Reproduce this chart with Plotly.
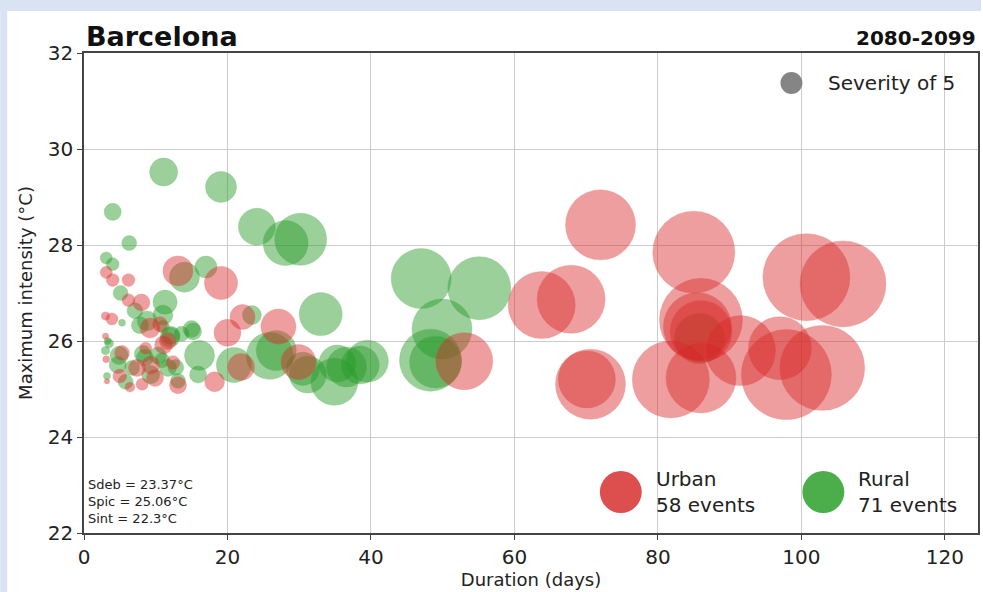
import plotly.graph_objects as go

# ---------------- data ----------------
urban_duration = [72.0, 85.0, 63.8, 67.9, 70.1, 70.6, 81.8, 86.0, 86.0, 85.5, 86.0, 91.5, 97.0, 97.9,
                  102.9, 100.7, 105.8, 53.0, 19.1, 27.1, 22.1, 20.0, 21.9, 18.2, 29.9, 13.1, 3.1, 4.0,
                  6.2, 6.2, 8.0, 9.2, 3.9, 3.0, 11.7, 5.3, 11.1, 7.4, 9.3, 5.0, 9.9, 13.1, 8.1, 6.4,
                  3.2, 3.1, 3.0, 10.6, 12.4, 8.6]
urban_intensity = [28.42, 27.85, 26.75, 26.87, 25.2, 25.1, 25.2, 25.23, 26.44, 26.3, 26.2, 25.8, 25.85,
                   25.3, 25.44, 27.33, 27.19, 25.58, 27.21, 26.3, 26.5, 26.17, 25.46, 25.15, 25.56, 27.46,
                   27.43, 27.27, 27.27, 26.85, 26.8, 26.27, 26.46, 26.52, 26.0, 25.75, 25.92, 25.44, 25.5,
                   25.27, 25.23, 25.08, 25.1, 25.04, 25.16, 25.62, 26.1, 26.35, 25.55, 25.85]
urban_severity = [50.6, 69.5, 46.4, 47.8, 33.6, 50.6, 61.3, 50.6, 71.2, 47.8, 39.7, 50.6, 41.0, 83.7,
                  74.6, 78.2, 76.4, 33.6, 11.3, 12.7, 6.5, 7.5, 7.5, 4.1, 12.7, 9.3, 1.5, 1.7,
                  1.7, 1.7, 3.0, 4.1, 1.5, 0.7, 3.0, 2.3, 3.4, 3.0, 3.4, 2.0, 3.0, 3.0, 1.5, 1.0,
                  0.3, 0.5, 0.4, 2.3, 2.0, 1.5]

rural_duration = [47.0, 55.1, 49.9, 48.3, 49.0, 85.8, 39.5, 38.5, 11.1, 19.1, 24.1, 28.1, 30.2, 17.0,
                  33.0, 23.4, 15.2, 16.1, 20.9, 25.9, 26.8, 15.9, 30.5, 31.2, 34.9, 35.3, 36.6, 14.0,
                  4.0, 6.3, 3.1, 4.0, 5.1, 7.1, 11.3, 11.0, 8.8, 7.8, 11.0, 5.3, 15.0, 12.1, 4.9, 8.2,
                  10.3, 4.7, 6.7, 11.7, 9.3, 13.1, 5.8, 3.2, 3.0, 3.3, 12.0, 13.6, 8.5, 12.8, 10.9, 3.5]
rural_intensity = [27.3, 27.1, 26.25, 25.6, 25.56, 26.05, 25.58, 25.5, 29.52, 29.21, 28.38, 28.04, 28.12,
                   27.54, 26.56, 26.54, 26.2, 25.7, 25.5, 25.69, 25.8, 25.3, 25.42, 25.3, 25.15, 25.53,
                   25.46, 27.33, 28.69, 28.04, 27.73, 27.6, 27.0, 26.63, 26.81, 26.54, 26.42, 26.33, 26.3,
                   26.38, 26.25, 26.12, 25.7, 25.73, 25.7, 25.5, 25.44, 25.44, 25.3, 25.17, 25.15, 25.27,
                   25.8, 26.0, 26.08, 26.15, 25.65, 25.45, 25.6, 25.95]
rural_severity = [37.2, 41.0, 37.2, 39.7, 27.9, 25.8, 18.2, 14.9, 8.1, 9.9, 14.1, 20.9, 27.9, 5.0,
                  19.1, 3.7, 3.0, 9.3, 12.7, 22.8, 16.5, 3.0, 11.3, 14.1, 22.8, 14.1, 16.5, 9.3,
                  3.0, 2.3, 1.5, 1.7, 2.3, 2.6, 6.0, 4.1, 4.1, 3.0, 1.7, 0.5, 3.0, 3.4, 3.4, 3.0,
                  3.0, 3.0, 2.3, 3.0, 3.4, 2.3, 2.3, 0.5, 0.7, 0.5, 4.1, 2.3, 3.0, 2.6, 2.3, 0.8]

x_ticks = [0, 20, 40, 60, 80, 100, 120]
y_ticks = [22, 24, 26, 28, 30, 32]
city = "Barcelona"
period = "2080-2099"
stats_lines = ["Sdeb = 23.37°C", "Spic = 25.06°C", "Sint = 22.3°C"]
legend_severity = 5
n_urban = 58
n_rural = 71

# ---------------- layout geometry (pixels) ----------------
W, H = 983, 592
L, R, T, B = 84, 980, 53, 533  # plot area edges in pixels


def px(xp):
    return (xp - L) / (R - L)


def py(yp):
    return (B - yp) / (B - T)


SEV_PX = 22  # diameter in px of a severity-5 bubble
sizeref = 2.0 * legend_severity / SEV_PX ** 2

RED = "rgba(218,40,40,0.64)"
RED_LINE = "rgba(225,80,80,0.35)"
GREEN = "rgba(40,155,40,0.66)"
GREEN_LINE = "rgba(60,170,60,0.35)"
FONT = "DejaVu Sans"
TXT = "#222222"

fig = go.Figure()
fig.add_trace(go.Scatter(
    x=rural_duration, y=rural_intensity, mode="markers", name="Rural",
    marker=dict(size=rural_severity, sizemode="area", sizeref=sizeref, color=GREEN,
                line=dict(color=GREEN_LINE, width=1)),
    showlegend=False, cliponaxis=True))
fig.add_trace(go.Scatter(
    x=urban_duration, y=urban_intensity, mode="markers", name="Urban",
    marker=dict(size=urban_severity, sizemode="area", sizeref=sizeref, color=RED,
                line=dict(color=RED_LINE, width=1)),
    showlegend=False, cliponaxis=True))

shapes = []
# light blue frame strips (left and top)
shapes.append(dict(type="rect", xref="paper", yref="paper", x0=px(0), x1=px(7), y0=py(H), y1=py(0),
                   fillcolor="#dae3f3", line=dict(width=0), layer="above"))
shapes.append(dict(type="rect", xref="paper", yref="paper", x0=px(0), x1=px(W), y0=py(11), y1=py(0),
                   fillcolor="#dae3f3", line=dict(width=0), layer="above"))


def circle(cx, cy, d, color):
    return dict(type="circle", xref="paper", yref="paper",
                x0=px(cx - d / 2), x1=px(cx + d / 2), y0=py(cy + d / 2), y1=py(cy - d / 2),
                fillcolor=color, line=dict(width=0), layer="above")


shapes.append(circle(793, 83, SEV_PX, "rgba(120,120,120,0.9)"))
shapes.append(circle(622, 492, 42, "rgba(214,39,40,0.82)"))
shapes.append(circle(825, 492, 42, "rgba(44,160,44,0.85)"))

annotations = []


def text(t, xp, yp, size, xanchor="left", bold=False):
    annotations.append(dict(text=("<b>%s</b>" % t) if bold else t, x=px(xp), y=py(yp),
                            xref="paper", yref="paper", showarrow=False, xanchor=xanchor,
                            yanchor="middle", align="left",
                            font=dict(family=FONT, size=size, color="#111111" if bold else TXT)))


text(city, 84, 37, 27, bold=True)
text(period, 980, 38, 20, xanchor="right", bold=True)
text("Severity of %d" % legend_severity, 828, 83, 20)
text("Urban<br>%d events" % n_urban, 655, 492, 20)
text("Rural<br>%d events" % n_rural, 858, 492, 20)
text("<br>".join(stats_lines), 86, 501, 13)

fig.update_layout(
    width=W, height=H,
    margin=dict(l=L, r=W - R, t=T, b=H - B, pad=0),
    paper_bgcolor="white", plot_bgcolor="white",
    shapes=shapes, annotations=annotations,
    font=dict(family=FONT, color=TXT),
)
fig.update_xaxes(range=[0, (R - L) / 7.19], tickvals=x_ticks, showgrid=True, gridcolor="#cccccc",
                 gridwidth=1, showline=True, linecolor="#444444", linewidth=1.5, mirror=True,
                 ticks="outside", ticklen=5, tickcolor="#444444", zeroline=False,
                 tickfont=dict(family=FONT, size=20, color=TXT),
                 title=dict(text="Duration (days)", font=dict(family=FONT, size=18, color=TXT), standoff=6))
fig.update_yaxes(range=[22, 32], tickvals=y_ticks, showgrid=True, gridcolor="#cccccc",
                 gridwidth=1, showline=True, linecolor="#444444", linewidth=1.5, mirror=True,
                 ticks="outside", ticklen=5, tickcolor="#444444", zeroline=False,
                 tickfont=dict(family=FONT, size=20, color=TXT),
                 title=dict(text="Maximum intensity (°C)", font=dict(family=FONT, size=18, color=TXT), standoff=10))

fig.write_html("out.html", config={"displayModeBar": False},
               post_script="document.body.style.margin='0';document.body.style.overflow='hidden';")
